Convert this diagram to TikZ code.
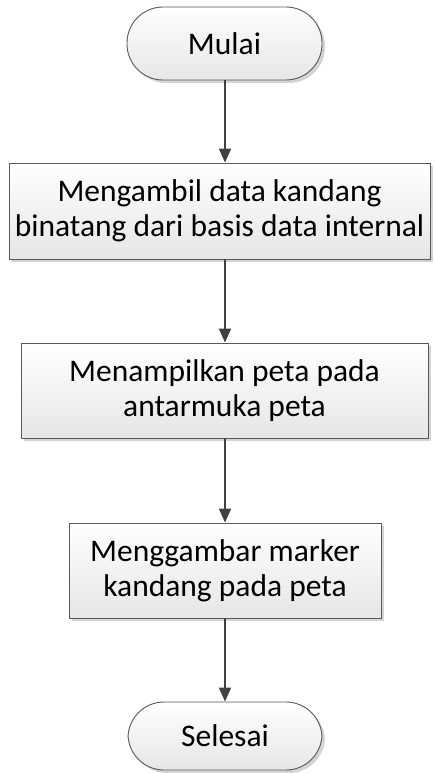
\documentclass[tikz,border=0pt]{standalone}
\usepackage{fontspec}
\setmainfont{Carlito}
\usetikzlibrary{arrows.meta,shadows,positioning}
\definecolor{edge}{HTML}{595959}
\definecolor{arr}{HTML}{404040}
\definecolor{shade}{HTML}{E6E6E6}
\definecolor{shadowgray}{HTML}{D4D4D4}
\tikzset{
  base/.style={draw=edge, line width=0.9pt, top color=white, bottom color=shade,
    font=\fontsize{31.5}{35}\selectfont, align=center, inner sep=0pt,
    drop shadow={shadow xshift=3pt, shadow yshift=-3pt, fill=shadowgray, opacity=1}},
  terminal/.style={base, rounded corners=36pt},
  stepbox/.style={base},
  flow/.style={draw=arr, line width=2pt, -{Triangle[width=12pt,length=14pt]}}
}
\begin{document}
\begin{tikzpicture}[x=1pt,y=-1pt]
\useasboundingbox (0,0) rectangle (434,773);
\node[terminal, minimum width=195pt, minimum height=73pt] (mulai) at (224.5,43.5) {Mulai};
\node[stepbox, minimum width=421pt, minimum height=96pt] (b1) at (219.5,211) {Mengambil data kandang\\binatang dari basis data internal};
\node[stepbox, minimum width=407pt, minimum height=95pt] (b2) at (224.5,390.5) {Menampilkan peta pada\\antarmuka peta};
\node[stepbox, minimum width=312pt, minimum height=95pt] (b3) at (225,570.5) {Menggambar marker\\kandang pada peta};
\node[terminal, minimum width=194pt, minimum height=68pt] (selesai) at (225,736) {Selesai};
\draw[flow] (mulai.south -| 225,0) -- (b1.north -| 225,0);
\draw[flow] (b1.south -| 225,0) -- (b2.north -| 225,0);
\draw[flow] (b2.south -| 225,0) -- (b3.north -| 225,0);
\draw[flow] (b3.south -| 225,0) -- (selesai.north -| 225,0);
\end{tikzpicture}
\end{document}
